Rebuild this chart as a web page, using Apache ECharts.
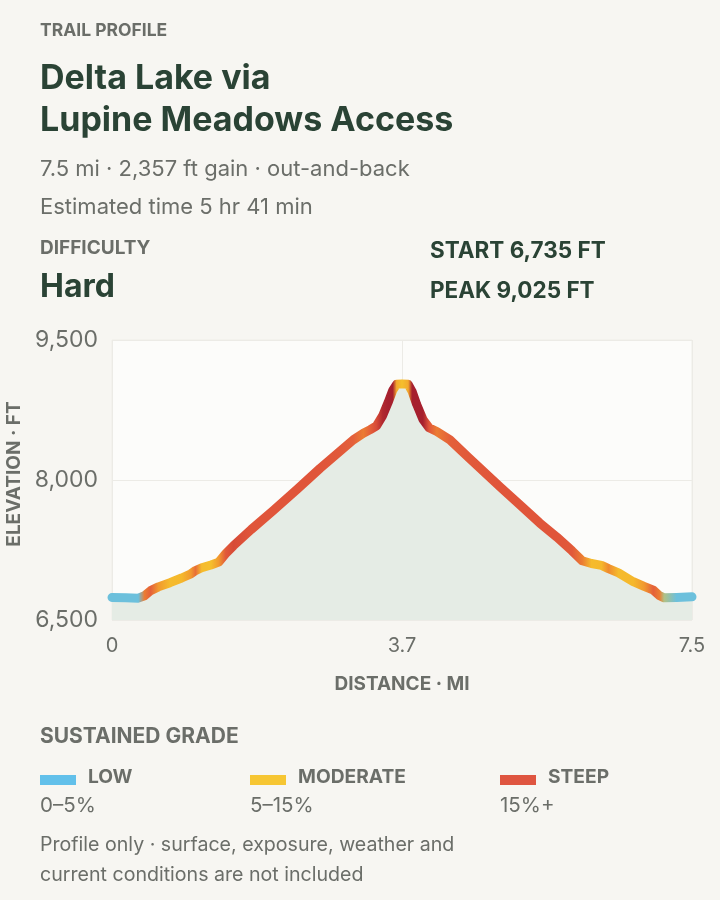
<!DOCTYPE html>
<html>
<head>
<meta charset="utf-8">
<script src="https://cdn.jsdelivr.net/npm/echarts@6/dist/echarts.min.js"></script>
<style>
  html, body { margin: 0; padding: 0; background: #f7f6f2; }
  #chart { width: 720px; height: 900px; }
</style>
</head>
<body>
<div id="chart"></div>
<script>
// ---- data ----
const distanceMi = [0.00,0.18,0.34,0.42,0.50,0.60,0.75,0.90,1.02,1.08,1.16,1.28,1.38,1.47,1.57,1.80,2.08,2.40,2.69,2.95,3.12,3.25,3.34,3.42,3.50,3.57,3.63,3.68,3.75,3.83,3.88,3.94,4.02,4.10,4.20,4.37,4.60,5.02,5.30,5.53,5.75,5.95,6.08,6.20,6.33,6.42,6.55,6.74,6.88,7.00,7.08,7.14,7.30,7.50];
const elevationFt = [6742,6738,6734,6760,6815,6855,6900,6950,6995,7030,7060,7090,7120,7210,7295,7470,7670,7905,8125,8310,8430,8500,8540,8580,8690,8830,8960,9025,9030,9025,8950,8810,8650,8560,8520,8430,8250,7925,7715,7540,7390,7240,7135,7105,7085,7050,7005,6910,6860,6820,6760,6738,6742,6748];
const gradePct = [2,2,3,13,15,11,8,9,11,14,8,7,11,17,19,18,18,18,18,17,15,13,15,19,23,25,24,10,7,10,24,26,24,18,13,15,17,18,18,18,18,17,13,8,9,12,8,9,11,15,13,5,2,2];
const xTickLabels = ['0', '3.7', '7.5'];
const yTickLabels = ['6,500', '8,000', '9,500'];
const legendNames = ['LOW', 'MODERATE', 'STEEP'];
const legendRanges = ['0–5%', '5–15%', '15%+'];
const legendColors = ['#62c0ea', '#f6c633', '#df5540'];

// grade -> colour ramp
const ramp = [[0,'#6cc0dc'],[4,'#6cc0dc'],[6,'#f5c22e'],[9,'#f5b82c'],[12,'#ef8a30'],[15,'#e4603a'],[18,'#e0553a'],[21,'#c43832'],[24,'#a6202e']];
function hex(c){return [parseInt(c.slice(1,3),16),parseInt(c.slice(3,5),16),parseInt(c.slice(5,7),16)];}
function gradeColor(g){
  if (g <= ramp[0][0]) return ramp[0][1];
  for (let i=1;i<ramp.length;i++){
    if (g <= ramp[i][0]){
      const t=(g-ramp[i-1][0])/(ramp[i][0]-ramp[i-1][0]);
      const a=hex(ramp[i-1][1]), b=hex(ramp[i][1]);
      return 'rgb('+a.map((v,k)=>Math.round(v+(b[k]-v)*t)).join(',')+')';
    }
  }
  return ramp[ramp.length-1][1];
}

const seriesData = distanceMi.map((d,i)=>[d, elevationFt[i]]);
const xMax = distanceMi[distanceMi.length-1];

const FONT = 'Inter, "Noto Sans", sans-serif';
const dark = '#2a4335';
const grey = '#6b6e69';

function txt(text, x, y, size, weight, color, align, rot){
  return { type:'text', x:x, y:y, silent:true, rotation: rot||0,
    style:{ text:text, font: weight+' '+size+'px '+FONT, fill:color, align:align||'left', verticalAlign:'middle',
            textAlign:align||'left', textVerticalAlign:'middle' } };
}

const graphics = [
  txt('TRAIL PROFILE', 40, 31, 17.5, 700, grey),
  txt('Delta Lake via', 40, 79, 34, 700, dark),
  txt('Lupine Meadows Access', 40, 121, 34, 700, dark),
  txt('7.5 mi · 2,357 ft gain · out-and-back', 40, 169, 22, 400, grey),
  txt('Estimated time 5 hr 41 min', 40, 207, 22, 400, grey),
  txt('DIFFICULTY', 40, 248, 19, 700, grey),
  txt('Hard', 40, 287, 32, 700, dark),
  txt('START 6,735 FT', 430, 251, 22.5, 700, dark),
  txt('PEAK 9,025 FT', 430, 291, 22.5, 700, dark),
  txt('SUSTAINED GRADE', 40, 737, 21, 700, grey),
  txt('Profile only · surface, exposure, weather and', 40, 845, 19.6, 400, grey),
  txt('current conditions are not included', 40, 875, 19.6, 400, grey)
];
const legX = [40, 250, 500];
legendNames.forEach((n,i)=>{
  graphics.push({type:'rect', silent:true, shape:{x:legX[i], y:775, width:36, height:10}, style:{fill:legendColors[i]}});
  graphics.push(txt(n, legX[i]+48, 777, 19.2, 700, grey));
  graphics.push(txt(legendRanges[i], legX[i], 806, 20.5, 400, grey));
});

const chart = echarts.init(document.getElementById('chart'), null, {renderer:'canvas'});
const option = {
  backgroundColor: '#f7f6f2',
  animation: false,
  textStyle: { fontFamily: FONT },
  grid: { left: 112, right: 28, top: 340, bottom: 280, show: true, backgroundColor: '#fcfcfa', borderColor: '#efeee9', borderWidth: 1, containLabel: false, outerBoundsMode: 'none' },
  xAxis: {
    type: 'value', min: 0, max: xMax, interval: xMax/2,
    axisLine: { show: false }, axisTick: { show: false },
    axisLabel: { margin: 16, fontSize: 20, color: grey, fontFamily: FONT,
      formatter: (v)=>{ const i = Math.round(v/(xMax/2)); return xTickLabels[i] || ''; } },
    splitLine: { show: true, lineStyle: { color: '#ecebe6', width: 1 } },
    name: 'DISTANCE · MI', nameLocation: 'middle', nameGap: 55,
    nameTextStyle: { fontSize: 19, fontWeight: 700, color: grey, fontFamily: FONT }
  },
  yAxis: {
    type: 'value', min: 6500, max: 9500, interval: 1500,
    axisLine: { show: false }, axisTick: { show: false },
    axisLabel: { margin: 14, fontSize: 23, color: grey, fontFamily: FONT,
      formatter: (v)=>{ const i = Math.round((v-6500)/1500); return yTickLabels[i] || ''; } },
    splitLine: { show: true, lineStyle: { color: '#ecebe6', width: 1 } },
    name: 'ELEVATION · FT', nameLocation: 'middle', nameGap: 82, nameRotate: 90,
    nameTextStyle: { fontSize: 19, fontWeight: 700, color: grey, fontFamily: FONT, padding: [0, 0, 0, 12] }
  },
  graphic: graphics,
  series: [{
    type: 'line', data: seriesData, showSymbol: false, smooth: false,
    lineStyle: { width: 9, cap: 'round', join: 'round', color: '#e0553a' },
    areaStyle: { color: '#e5ece5', opacity: 1 },
    z: 3
  }]
};
chart.setOption(option);

// colour the profile by grade using a gradient in pixel space
const px0 = chart.convertToPixel({xAxisIndex:0}, 0);
const px1 = chart.convertToPixel({xAxisIndex:0}, xMax);
const stops = distanceMi.map((d,i)=>({ offset: d/xMax, color: gradeColor(gradePct[i]) }));
chart.setOption({ series: [{ lineStyle: { color: new echarts.graphic.LinearGradient(px0, 0, px1, 0, stops, true) } }] });
</script>
</body>
</html>
